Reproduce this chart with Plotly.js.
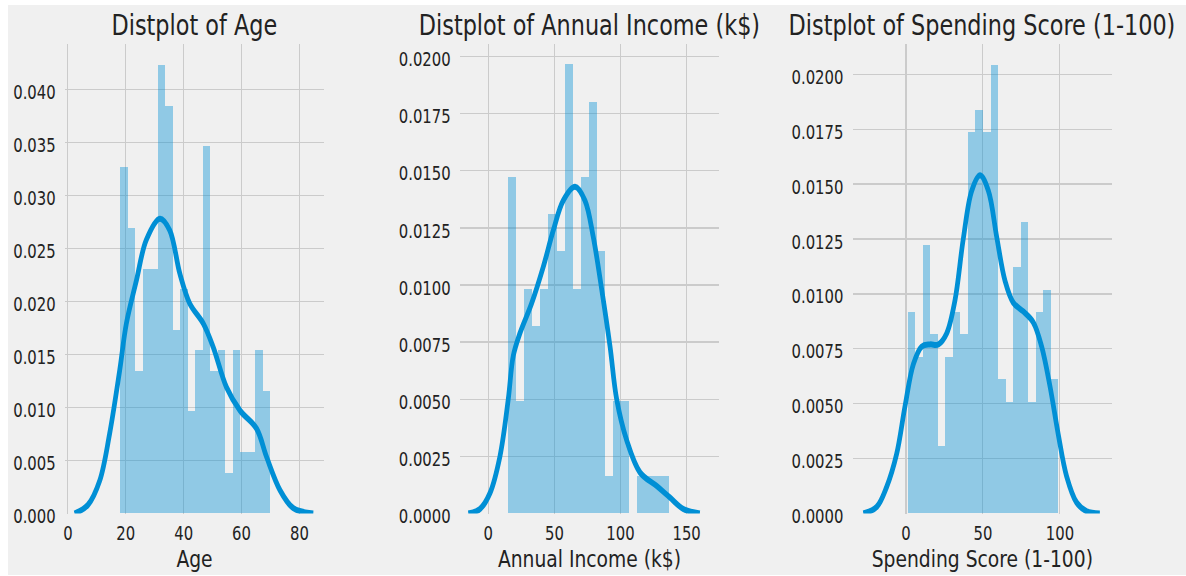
<!DOCTYPE html>
<html>
<head>
<meta charset="utf-8">
<script src="https://cdn.plot.ly/plotly-3.0.1.min.js"></script>
<style>
  html, body { margin:0; padding:0; background:#ffffff; overflow:hidden; width:1186px; height:576px; }
  #chart { position:absolute; left:8px; top:5px; width:1491px; height:570px;
           transform: scaleX(0.79008); transform-origin: 0 0; }
</style>
</head>
<body>
<div id="chart"></div>
<script>
// ---------------- DATA ----------------
const panelTitles = ["Distplot of Age", "Distplot of Annual Income (k$)", "Distplot of Spending Score (1-100)"];
const axisLabels = ["Age", "Annual Income (k$)", "Spending Score (1-100)"];

// Age histogram (density)
const ageBinEdges = [18, 20.6, 23.2, 25.8, 28.4, 31, 33.6, 36.2, 38.8, 41.4, 44, 46.6, 49.2, 51.8, 54.4, 57, 59.6, 62.2, 64.8, 67.4, 70];
const ageDensity = [0.03269, 0.02692, 0.01346, 0.02308, 0.02308, 0.04231, 0.03846, 0.01731, 0.02115, 0.00962,
                    0.01538, 0.03462, 0.01346, 0.01538, 0.00385, 0.01538, 0.00577, 0.00577, 0.01538, 0.01154];
// Age KDE
const ageKdeX = [2.3, 6.9, 11, 14.4, 17.9, 20.2, 23.7, 27.1, 31.8, 35.2, 38.7, 42.1, 46.8, 50.2, 54.8, 59.5, 65.2, 68.7, 73.3, 77.9, 84.8];
const ageKdeY = [0, 0.0008, 0.0031, 0.0075, 0.0135, 0.0179, 0.022, 0.0258, 0.0278, 0.0267, 0.0226, 0.0198, 0.0179, 0.0157, 0.0119, 0.0097, 0.008, 0.0053, 0.0022, 0.0005, 0];

// Annual income histogram (density)
const incomeBinEdges = [15, 21.1, 27.2, 33.3, 39.4, 45.5, 51.6, 57.7, 63.8, 69.9, 76, 82.1, 88.2, 94.3, 100.4, 106.5, 112.6, 118.7, 124.8, 130.9, 137];
const incomeDensity = [0.01475, 0.00492, 0.00984, 0.0082, 0.00984, 0.01311, 0.01148, 0.01967, 0.00984, 0.01475,
                       0.01803, 0.01148, 0.00164, 0.00492, 0.00492, 0, 0.00164, 0.00164, 0.00164, 0.00164];
// Annual income KDE
const incomeKdeX = [-15.1, -6.3, 1.3, 8.8, 15.1, 18.9, 24, 32.8, 41.6, 49.2, 56.7, 65.6, 73.1, 79.4, 85.8, 92.1, 97.1, 104.7, 114.7, 127.4, 137.4, 147.5, 160];
const incomeKdeY = [0, 0.0002, 0.0009, 0.0025, 0.005, 0.0069, 0.0079, 0.0092, 0.0108, 0.0124, 0.0137, 0.0143, 0.0137, 0.0121, 0.0098, 0.0073, 0.005, 0.0032, 0.0018, 0.0012, 0.0007, 0.0002, 0];

// Spending score histogram (density)
const spendBinEdges = [1, 5.9, 10.8, 15.7, 20.6, 25.5, 30.4, 35.3, 40.2, 45.1, 50, 54.9, 59.8, 64.7, 69.6, 74.5, 79.4, 84.3, 89.2, 94.1, 99];
const spendDensity = [0.00918, 0.00714, 0.01224, 0.00816, 0.00306, 0.00714, 0.00918, 0.00816, 0.01735, 0.01837,
                      0.01735, 0.02041, 0.00612, 0.0051, 0.01122, 0.01327, 0.0051, 0.00918, 0.0102, 0.00612];
// Spending score KDE
const spendKdeX = [-27.7, -19, -12.6, -6.1, -0.6, 4.8, 10.2, 15.6, 21, 26.4, 31.8, 37.2, 42.7, 48.1, 53.5, 58.9, 64.3, 69.7, 76.2, 82.7, 88.1, 93.5, 98.9, 104.3, 110.8, 117.3, 125.9];
const spendKdeY = [0, 0.0003, 0.0012, 0.0027, 0.0049, 0.0068, 0.0076, 0.0077, 0.0077, 0.0082, 0.0097, 0.0125, 0.0147, 0.0154, 0.0147, 0.0126, 0.0106, 0.0096, 0.0092, 0.0087, 0.0076, 0.0058, 0.0036, 0.0017, 0.0005, 0.0001, 0];

// Tick values
const xTickVals = [[0, 20, 40, 60, 80], [0, 50, 100, 150], [0, 50, 100]];
const yTickVals = [
  [0, 0.005, 0.01, 0.015, 0.02, 0.025, 0.03, 0.035, 0.04],
  [0, 0.0025, 0.005, 0.0075, 0.01, 0.0125, 0.015, 0.0175, 0.02],
  [0, 0.0025, 0.005, 0.0075, 0.01, 0.0125, 0.015, 0.0175, 0.02]
];
const yTickFormats = [".3f", ".4f", ".4f"];

// ---------------- STYLE / LAYOUT ----------------
const BLUE = "#008fd5";
const BG = "#f0f0f0";
const GRID = "#cbcbcb";
const TXT = "#222222";
const FONT = "DejaVu Sans, Verdana, sans-serif";

const xDomains = [[0.04839, 0.26825], [0.38370, 0.60357], [0.71707, 0.93718]];
const yDomain = [0.10789, 0.93158];
const xRanges = [[-1.0, 88.5], [-21.4, 174.5], [-34.6, 133.8]];
const yRanges = [[0, 0.04427], [0, 0.02055], [0, 0.02138]];

function histTrace(edges, dens, k) {
  const left = edges.slice(0, -1);
  const widths = left.map((e, i) => edges[i + 1] - e);
  return {
    type: "bar", x: left, y: dens, width: widths, offset: 0,
    marker: { color: BLUE, opacity: 0.4, line: { width: 0 } },
    xaxis: k === 0 ? "x" : "x" + (k + 1), yaxis: k === 0 ? "y" : "y" + (k + 1),
    hoverinfo: "skip", showlegend: false
  };
}
function kdeTrace(xs, ys, k) {
  return {
    type: "scatter", mode: "lines", x: xs, y: ys,
    line: { color: BLUE, width: 6, shape: "spline", smoothing: 1 },
    xaxis: k === 0 ? "x" : "x" + (k + 1), yaxis: k === 0 ? "y" : "y" + (k + 1),
    hoverinfo: "skip", showlegend: false
  };
}

const data = [
  histTrace(ageBinEdges, ageDensity, 0), kdeTrace(ageKdeX, ageKdeY, 0),
  histTrace(incomeBinEdges, incomeDensity, 1), kdeTrace(incomeKdeX, incomeKdeY, 1),
  histTrace(spendBinEdges, spendDensity, 2), kdeTrace(spendKdeX, spendKdeY, 2)
];

const layout = {
  width: 1491, height: 570,
  margin: { l: 0, r: 0, t: 0, b: 0, pad: 0 },
  paper_bgcolor: BG, plot_bgcolor: BG,
  font: { family: FONT, color: TXT, size: 18.8 },
  bargap: 0, barmode: "overlay",
  showlegend: false,
  annotations: []
};

for (let k = 0; k < 3; k++) {
  const xn = k === 0 ? "xaxis" : "xaxis" + (k + 1);
  const yn = k === 0 ? "yaxis" : "yaxis" + (k + 1);
  layout[xn] = {
    domain: xDomains[k], range: xRanges[k], anchor: k === 0 ? "y" : "y" + (k + 1),
    tickmode: "array", tickvals: xTickVals[k],
    showgrid: true, gridcolor: GRID, gridwidth: 1.3,
    zeroline: false, showline: false,
    ticks: "outside", ticklen: 3, tickcolor: "rgba(0,0,0,0)",
    tickfont: { family: FONT, size: 18.8, color: TXT },
    title: { text: axisLabels[k], font: { family: FONT, size: 23.7, color: TXT }, standoff: 7 },
    automargin: false, fixedrange: true
  };
  layout[yn] = {
    domain: yDomain, range: yRanges[k], anchor: k === 0 ? "x" : "x" + (k + 1),
    tickmode: "array", tickvals: yTickVals[k], tickformat: yTickFormats[k],
    showgrid: true, gridcolor: GRID, gridwidth: 1.3,
    zeroline: false, showline: false,
    ticks: "outside", ticklen: 7, tickcolor: "rgba(0,0,0,0)",
    ticklabelshift: 3,
    tickfont: { family: FONT, size: 18.8, color: TXT },
    automargin: false, fixedrange: true
  };
  layout.annotations.push({
    text: panelTitles[k], xref: "paper", yref: "paper",
    x: (xDomains[k][0] + xDomains[k][1]) / 2, y: 1 - 20 / 570,
    xanchor: "center", yanchor: "middle", showarrow: false,
    font: { family: FONT, size: 28.3, color: TXT }
  });
}

Plotly.newPlot("chart", data, layout, { displayModeBar: false, staticPlot: true });
</script>
</body>
</html>
